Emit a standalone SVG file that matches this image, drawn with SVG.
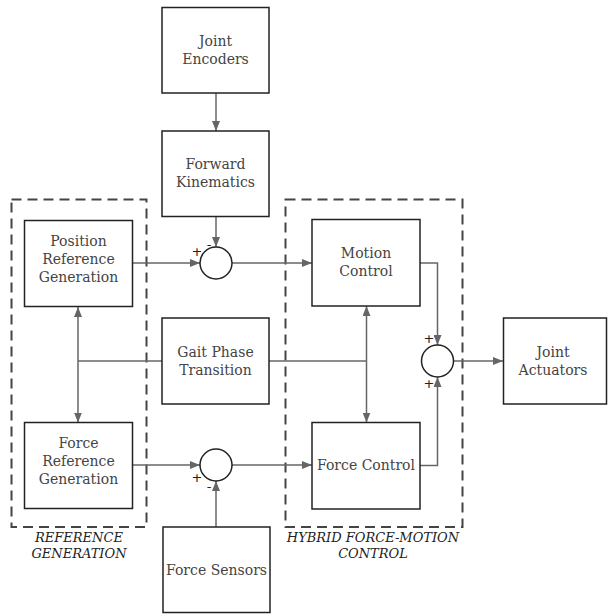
<svg xmlns="http://www.w3.org/2000/svg" width="608" height="614" viewBox="0 0 608 614">
<style>
.box{fill:#fff;stroke:#222;stroke-width:1.5}
.t{font-family:"DejaVu Serif","Liberation Serif",serif;font-size:14px;fill:#444;text-anchor:middle}
.g{font-family:"DejaVu Serif","Liberation Serif",serif;font-size:13px;font-style:italic;fill:#222;text-anchor:middle}
.sign{font-family:"DejaVu Sans","Liberation Sans",sans-serif;font-size:13px;fill:#222;text-anchor:middle}
.dash{fill:none;stroke:#444;stroke-width:2;stroke-dasharray:10,6}
.c{fill:none;stroke:#666;stroke-width:1.5}
.sum{fill:#fff;stroke:#222;stroke-width:1.5}
</style>
<defs>
<marker id="ah" viewBox="0 0 10 8" refX="10" refY="4" markerWidth="10" markerHeight="8" markerUnits="userSpaceOnUse" orient="auto-start-reverse">
<path d="M0,0 L10,4 L0,8 Z" fill="#666"/>
</marker>
</defs>
<g id="group-reference">
<rect class="dash" x="11.5" y="199.5" width="135" height="327.5"/>
<text class="g" x="79" y="542">REFERENCE</text>
<text class="g" x="79" y="558">GENERATION</text>
</g>
<g id="group-hybrid">
<rect class="dash" x="285.5" y="199.5" width="177" height="327.5"/>
<text class="g" x="373" y="542">HYBRID FORCE-MOTION</text>
<text class="g" x="373" y="558">CONTROL</text>
</g>
<g id="connectors">
<line class="c" x1="216" y1="93" x2="216" y2="131" marker-end="url(#ah)"/>
<line class="c" x1="216" y1="217" x2="216" y2="247" marker-end="url(#ah)"/>
<line class="c" x1="133" y1="263" x2="200" y2="263" marker-end="url(#ah)"/>
<line class="c" x1="232" y1="263" x2="312" y2="263" marker-end="url(#ah)"/>
<polyline class="c" points="420,263 437.5,263 437.5,345" marker-end="url(#ah)"/>
<polyline class="c" points="420,465.5 437.5,465.5 437.5,377" marker-end="url(#ah)"/>
<line class="c" x1="453.5" y1="361" x2="503" y2="361" marker-end="url(#ah)"/>
<line class="c" x1="162" y1="361" x2="78" y2="361"/>
<line class="c" x1="78" y1="307" x2="78" y2="422.5" marker-start="url(#ah)" marker-end="url(#ah)"/>
<line class="c" x1="269" y1="361" x2="366.5" y2="361"/>
<line class="c" x1="366.5" y1="306" x2="366.5" y2="422.5" marker-start="url(#ah)" marker-end="url(#ah)"/>
<line class="c" x1="133" y1="465" x2="200" y2="465" marker-end="url(#ah)"/>
<line class="c" x1="232" y1="465" x2="312" y2="465" marker-end="url(#ah)"/>
<line class="c" x1="216" y1="527" x2="216" y2="481" marker-end="url(#ah)"/>
</g>
<g id="joint-encoders">
<rect class="box" x="162" y="7.5" width="107" height="85.5"/>
<text class="t" x="215.5" y="46">Joint</text>
<text class="t" x="215.5" y="64">Encoders</text>
</g>
<g id="forward-kinematics">
<rect class="box" x="162" y="131" width="107" height="85.5"/>
<text class="t" x="215.5" y="169">Forward</text>
<text class="t" x="215.5" y="187">Kinematics</text>
</g>
<g id="position-reference">
<rect class="box" x="24.5" y="220.5" width="108" height="86"/>
<text class="t" x="78.5" y="246">Position</text>
<text class="t" x="78.5" y="264">Reference</text>
<text class="t" x="78.5" y="282">Generation</text>
</g>
<g id="force-reference">
<rect class="box" x="24.5" y="422.5" width="108" height="86"/>
<text class="t" x="78.5" y="448">Force</text>
<text class="t" x="78.5" y="466">Reference</text>
<text class="t" x="78.5" y="484">Generation</text>
</g>
<g id="gait-phase">
<rect class="box" x="162" y="318" width="107" height="86"/>
<text class="t" x="215.5" y="357">Gait Phase</text>
<text class="t" x="215.5" y="375">Transition</text>
</g>
<g id="sum-position">
<circle class="sum" cx="216" cy="263" r="16"/>
<text class="sign" x="197" y="256">+</text>
<text class="sign" x="209" y="249">-</text>
</g>
<g id="sum-force">
<circle class="sum" cx="216" cy="465" r="16"/>
<text class="sign" x="197" y="482">+</text>
<text class="sign" x="209" y="491">-</text>
</g>
<g id="motion-control">
<rect class="box" x="312" y="219.5" width="108" height="86.5"/>
<text class="t" x="366" y="258">Motion</text>
<text class="t" x="366" y="276">Control</text>
</g>
<g id="force-control">
<rect class="box" x="312" y="422.5" width="108" height="86.5"/>
<text class="t" x="366" y="470">Force Control</text>
</g>
<g id="sum-output">
<circle class="sum" cx="437.5" cy="361" r="16"/>
<text class="sign" x="429" y="343">+</text>
<text class="sign" x="429" y="388">+</text>
</g>
<g id="joint-actuators">
<rect class="box" x="503.5" y="318" width="103" height="86"/>
<text class="t" x="553" y="357">Joint</text>
<text class="t" x="553" y="375">Actuators</text>
</g>
<g id="force-sensors">
<rect class="box" x="163" y="527" width="107" height="85.5"/>
<text class="t" x="216.5" y="575">Force Sensors</text>
</g>
</svg>
